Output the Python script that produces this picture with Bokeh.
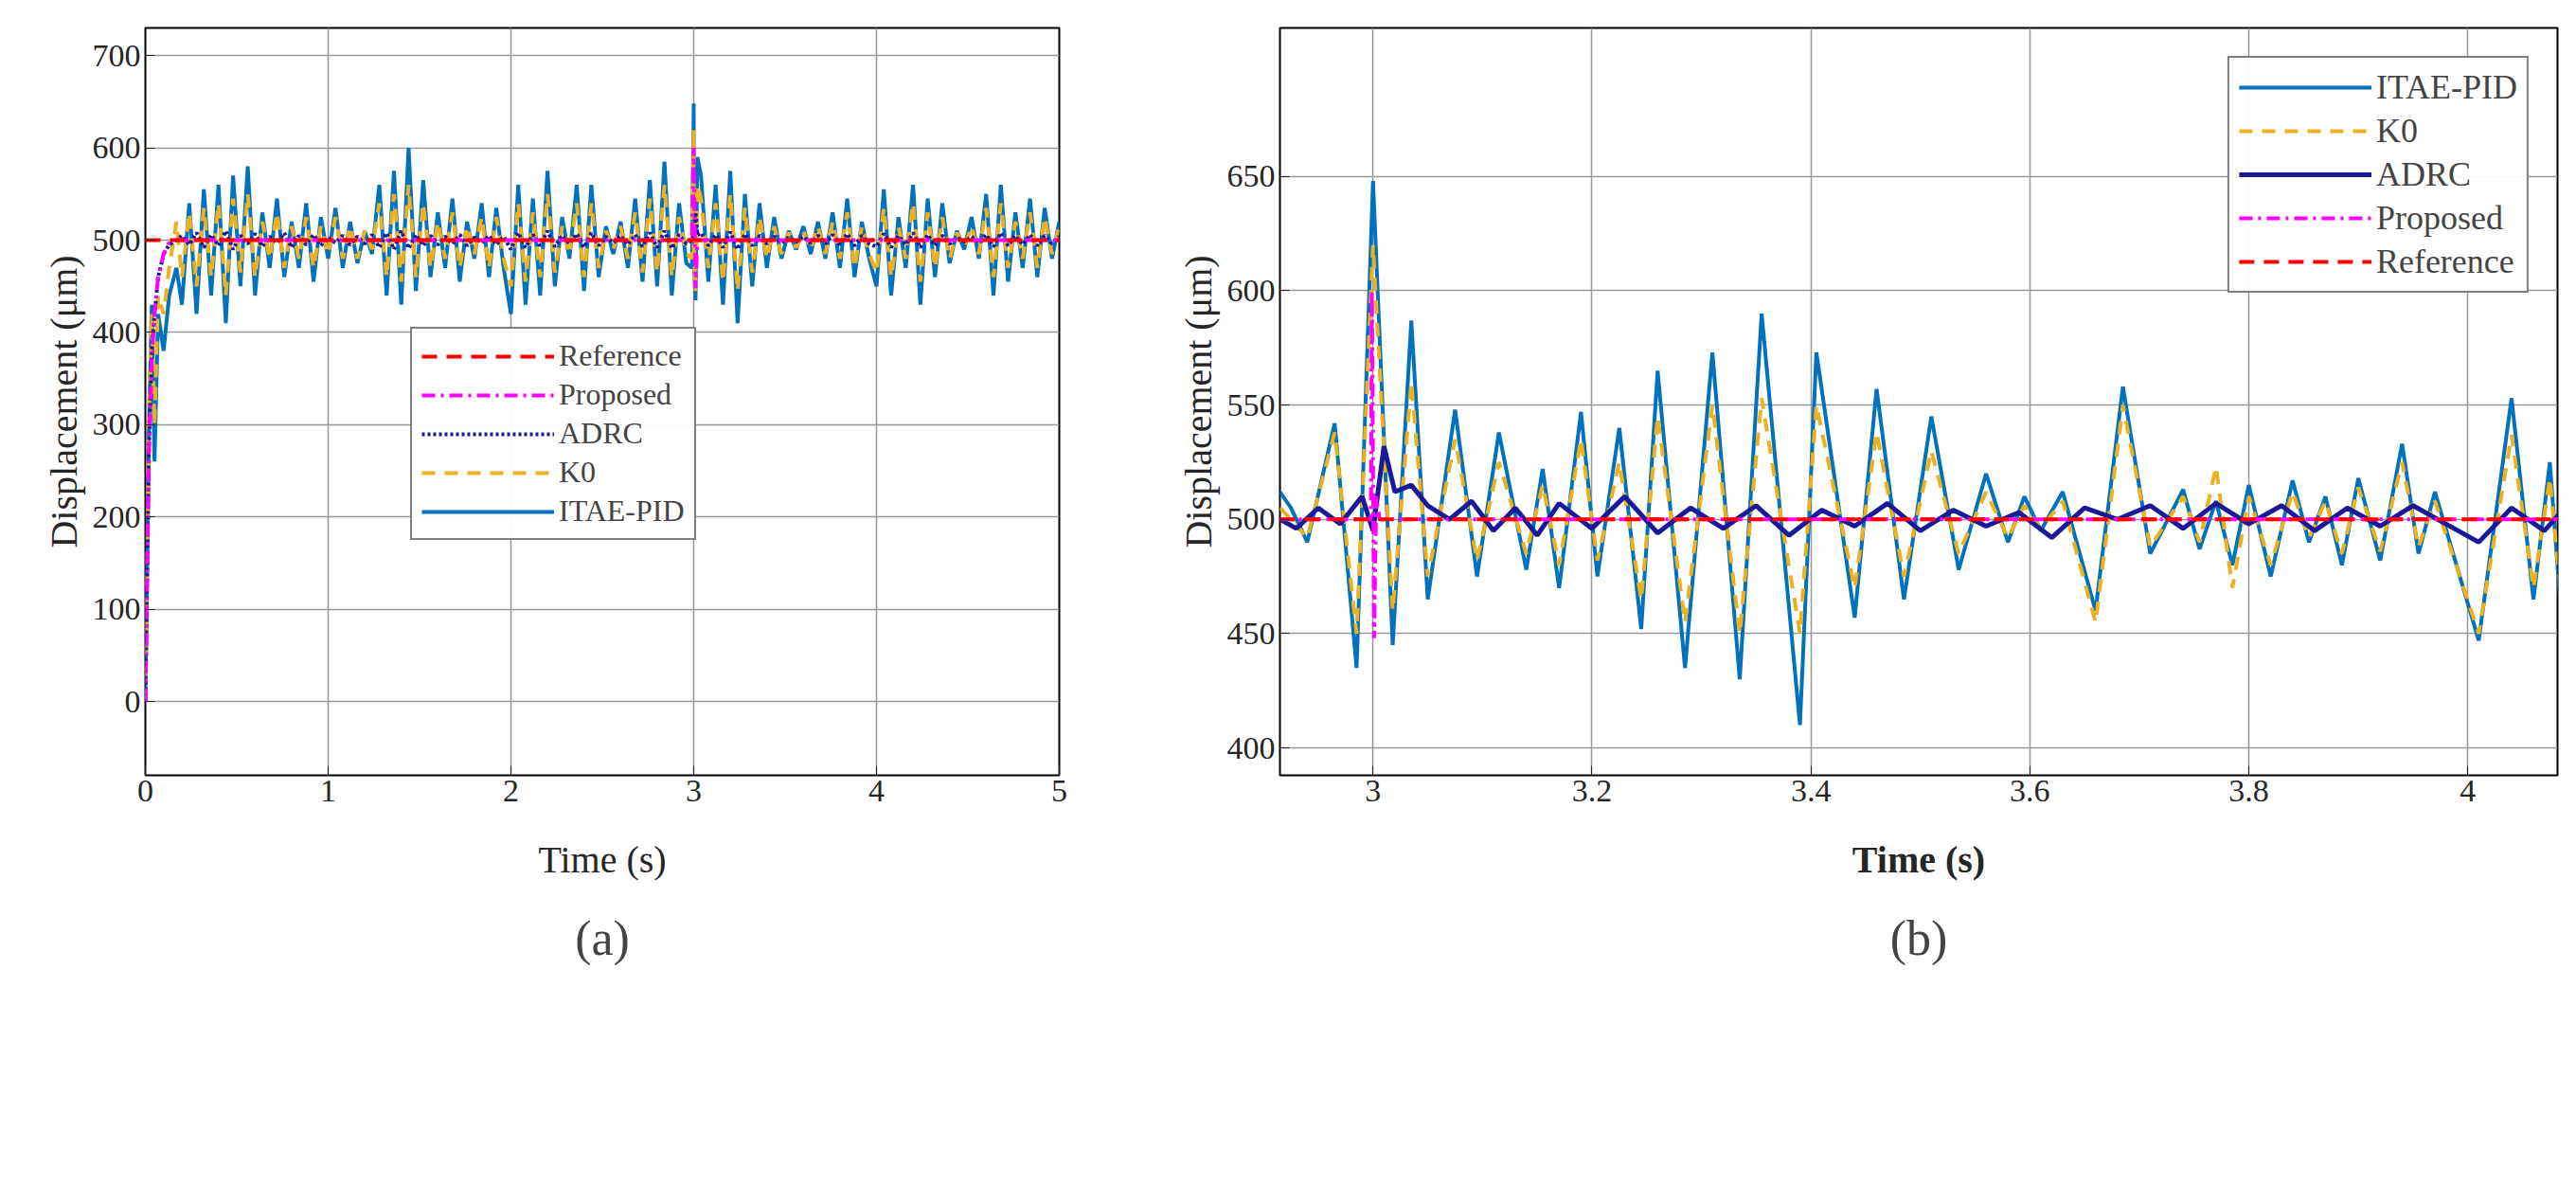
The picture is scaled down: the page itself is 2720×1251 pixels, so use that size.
import numpy as np
from bokeh.plotting import figure
from bokeh.layouts import row
from bokeh.models import Range1d, Title, Legend, LegendItem
from bokeh.embed import file_html
from bokeh.resources import INLINE

# ---------- panel (a): 0..5 s ----------
ta_start = [0.0, 0.01, 0.02, 0.035, 0.05, 0.07, 0.1, 0.13, 0.17]
itae_a_start = [0, 150, 300, 430, 260, 420, 380, 440, 470]
k0_a_start = [0, 160, 320, 420, 300, 440, 420, 470, 520]
adrc_a_start = [0, 140, 280, 380, 420, 460, 485, 495, 500]
prop_a_start = [0, 140, 270, 370, 420, 460, 485, 497, 500]

itae_a = [430, 540, 420, 555, 440, 560, 410, 570, 450, 580, 440, 530, 470, 545, 460, 520, 470, 540, 455, 525,
          480, 535, 470, 520, 475, 510, 485, 560, 440, 575, 430, 600, 445, 565, 460, 530, 470, 545, 455, 520, 480, 540, 460, 535, 470,
          420, 560, 430, 545, 440, 575, 450, 525, 480, 560, 445, 560, 460, 515, 485, 520, 470, 545, 455, 565, 450, 585, 440, 540, 475,
          490, 570, 455, 560, 430, 575, 410, 550, 450, 540, 470, 525, 480, 510, 490, 515, 485, 520, 480, 530, 470, 545, 460, 520, 480,
          450, 555, 440, 525, 470, 560, 430, 545, 460, 540, 475, 510, 490, 525, 480, 550, 440, 560, 455, 530, 470, 545, 460, 535, 480, 520]
k0_a = [460, 530, 450, 535, 460, 540, 440, 545, 465, 550, 460, 520, 480, 530, 470, 515, 480, 525, 470, 515,
        485, 525, 480, 515, 480, 510, 490, 540, 460, 550, 455, 560, 460, 540, 470, 520, 480, 530, 470, 515, 485, 525, 470, 525, 480,
        450, 540, 455, 530, 460, 550, 465, 515, 485, 540, 460, 540, 470, 510, 490, 515, 480, 530, 465, 545, 465, 560, 460, 525, 485,
        495, 545, 470, 540, 455, 550, 445, 535, 465, 525, 480, 515, 485, 508, 492, 510, 490, 515, 485, 520, 480, 530, 470, 515, 485,
        465, 535, 460, 515, 480, 540, 455, 530, 470, 525, 480, 508, 492, 515, 485, 535, 460, 540, 470, 520, 480, 530, 470, 525, 485, 515]
adrc_a = [505, 495, 508, 492, 506, 494, 510, 490, 505, 496, 507, 493, 504, 497, 508, 492, 505, 495, 506, 494,
          503, 497, 505, 495, 504, 496, 506, 492, 508, 490, 510, 491, 506, 494, 505, 495, 504, 496, 506, 494, 503, 497, 505, 495, 504,
          490, 508, 492, 506, 494, 510, 493, 505, 496, 507, 492, 508, 494, 504, 497, 505, 495, 506, 493, 508, 492, 510, 491, 506, 496,
          498, 508, 494, 506, 492, 509, 490, 507, 494, 505, 496, 504, 497, 503, 498, 504, 497, 505, 496, 506, 495, 507, 494, 505, 496,
          493, 507, 492, 505, 495, 508, 492, 506, 494, 505, 496, 503, 498, 504, 497, 506, 493, 508, 494, 505, 495, 506, 494, 505, 496, 504]

ta_spike = [2.99, 3.0, 3.01, 3.02]
itae_a_spike = [470, 648, 435, 590]
k0_a_spike = [480, 620, 445, 560]
adrc_a_spike = [500, 505, 530, 505]
prop_a_spike = [500, 600, 448, 500]

# ---------- panel (b): zoom 2.915..4.08 s ----------
tb_itae = [2.915, 2.925, 2.94, 2.965, 2.985, 3.0, 3.018, 3.035, 3.05, 3.075, 3.095, 3.115, 3.14, 3.155, 3.17, 3.19,
           3.205, 3.225, 3.245, 3.26, 3.285, 3.31, 3.335, 3.355, 3.39, 3.405, 3.44, 3.46, 3.485, 3.51, 3.535, 3.56,
           3.58, 3.595, 3.61, 3.63, 3.66, 3.685, 3.71, 3.74, 3.755, 3.77, 3.785, 3.8, 3.82, 3.84, 3.855, 3.87,
           3.885, 3.9, 3.92, 3.94, 3.955, 3.97, 4.01, 4.04, 4.06, 4.075, 4.085]
itae_b = [512, 505, 490, 542, 435, 648, 445, 587, 465, 548, 475, 538, 478, 522, 470, 547,
          475, 540, 452, 565, 435, 573, 430, 590, 410, 573, 457, 557, 465, 545, 478, 520,
          490, 510, 495, 512, 460, 558, 485, 513, 487, 508, 480, 515, 475, 517, 490, 510,
          480, 518, 482, 533, 485, 512, 447, 553, 465, 525, 460]
k0_b = [505, 500, 492, 538, 450, 620, 460, 560, 475, 535, 482, 525, 485, 515, 480, 535,
        482, 525, 465, 545, 455, 550, 450, 553, 450, 550, 470, 538, 475, 530, 485, 512,
        492, 506, 496, 508, 455, 550, 488, 510, 490, 523, 470, 510, 480, 512, 492, 508,
        485, 514, 486, 525, 488, 508, 450, 537, 470, 518, 466]
tb_adrc = [2.915, 2.93, 2.95, 2.97, 2.99, 3.0, 3.01, 3.02, 3.035, 3.05, 3.07, 3.09, 3.11, 3.13, 3.15, 3.17,
           3.2, 3.23, 3.26, 3.29, 3.32, 3.35, 3.38, 3.41, 3.44, 3.47, 3.5, 3.53, 3.56, 3.59, 3.62, 3.65,
           3.68, 3.71, 3.74, 3.77, 3.8, 3.83, 3.86, 3.89, 3.92, 3.95, 3.98, 4.01, 4.04, 4.07, 4.085]
adrc_b = [500, 496, 505, 498, 510, 495, 532, 512, 515, 506, 500, 508, 495, 505, 493, 507,
          496, 510, 494, 505, 496, 506, 493, 504, 497, 507, 495, 504, 497, 503, 492, 505,
          500, 506, 496, 507, 498, 506, 495, 505, 497, 506, 498, 490, 505, 495, 503]
tb_prop = [2.915, 2.998, 2.999, 3.001, 3.003, 3.006, 4.085]
prop_b = [500, 500, 600, 448, 510, 500, 500]

ref_level = [500, 500]

BLUE = "#0072BD"
ORANGE = "#EDB120"
NAVY = "#1A1A99"
MAGENTA = "#FF00FF"
RED = "#FF0000"
FONT = "Liberation Serif"


def merge(t_parts, v_parts):
    t = np.concatenate([np.asarray(x, float) for x in t_parts])
    v = np.concatenate([np.asarray(x, float) for x in v_parts])
    o = np.argsort(t, kind="stable")
    return t[o], v[o]


def style(p, label):
    p.outline_line_color = "black"
    p.outline_line_width = 2
    for ax in (p.xaxis, p.yaxis):
        ax.major_label_text_font = FONT
        ax.major_label_text_font_size = "34px"
        ax.major_label_text_color = "#262626"
        ax.axis_label_text_font = FONT
        ax.axis_label_text_font_size = "40px"
        ax.axis_label_text_font_style = "normal"
        ax.axis_label_text_color = "#262626"
        ax.major_tick_in = 10
        ax.major_tick_out = 0
        ax.minor_tick_line_color = None
        ax.axis_line_color = None
        ax.major_tick_line_color = "#262626"
    p.xaxis.axis_label_standoff = 36
    p.grid.grid_line_color = "#999999"
    p.grid.grid_line_width = 1.5
    p.add_layout(Title(text=label, align="center", text_font=FONT, text_font_size="52px",
                       text_font_style="normal", standoff=55), "below")


ta_grid = np.linspace(0.2, 5.0, 121)

pa = figure(width=1200, height=1080, output_backend="svg", toolbar_location=None,
            x_range=Range1d(0, 5), y_range=Range1d(-80, 730),
            x_axis_label="Time (s)", y_axis_label="Displacement (μm)",
            min_border_left=153, min_border_right=82, min_border_top=29, min_border_bottom=262)
pa.xaxis.ticker = [0, 1, 2, 3, 4, 5]
pa.yaxis.ticker = [0, 100, 200, 300, 400, 500, 600, 700]
style(pa, "(a)")

t, v = merge([ta_start, ta_grid, ta_spike], [itae_a_start, itae_a, itae_a_spike])
r_itae = pa.line(t, v, line_color=BLUE, line_width=4)
t, v = merge([ta_start, ta_grid, ta_spike], [k0_a_start, k0_a, k0_a_spike])
r_k0 = pa.line(t, v, line_color=ORANGE, line_width=4, line_dash="14 10")
t, v = merge([ta_start, ta_grid, ta_spike], [adrc_a_start, adrc_a, adrc_a_spike])
r_adrc = pa.line(t, v, line_color=NAVY, line_width=4, line_dash="3 3")
t, v = merge([ta_start, [0.3, 5.0], ta_spike], [prop_a_start, [500, 500], prop_a_spike])
r_prop = pa.line(t, v, line_color=MAGENTA, line_width=4, line_dash="14 6 3 6")
r_ref = pa.line([0, 5], ref_level, line_color=RED, line_width=4, line_dash="16 10")

leg_a = Legend(items=[LegendItem(label="Reference", renderers=[r_ref]),
                      LegendItem(label="Proposed", renderers=[r_prop]),
                      LegendItem(label="ADRC", renderers=[r_adrc]),
                      LegendItem(label="K0", renderers=[r_k0]),
                      LegendItem(label="ITAE-PID", renderers=[r_itae])],
               location=(280, 248))
pa.add_layout(leg_a, "center")

pb = figure(width=1504, height=1080, output_backend="svg", toolbar_location=None,
            x_range=Range1d(2.915, 4.082), y_range=Range1d(388, 715),
            x_axis_label="Time (s)", y_axis_label="Displacement (μm)",
            min_border_left=151, min_border_right=4, min_border_top=29, min_border_bottom=240)
pb.xaxis.ticker = [3, 3.2, 3.4, 3.6, 3.8, 4]
pb.xaxis.major_label_overrides = {3: "3", 4: "4"}
pb.yaxis.ticker = [400, 450, 500, 550, 600, 650]
style(pb, "(b)")
pb.xaxis.axis_label_text_font_style = "bold"

s_itae = pb.line(tb_itae, itae_b, line_color=BLUE, line_width=4)
s_k0 = pb.line(tb_itae, k0_b, line_color=ORANGE, line_width=4, line_dash="14 10")
s_adrc = pb.line(tb_adrc, adrc_b, line_color=NAVY, line_width=5)
s_prop = pb.line(tb_prop, prop_b, line_color=MAGENTA, line_width=4, line_dash="14 6 3 6")
s_ref = pb.line([2.915, 4.085], ref_level, line_color=RED, line_width=4, line_dash="16 10")

leg_b = Legend(items=[LegendItem(label="ITAE-PID", renderers=[s_itae]),
                      LegendItem(label="K0", renderers=[s_k0]),
                      LegendItem(label="ADRC", renderers=[s_adrc]),
                      LegendItem(label="Proposed", renderers=[s_prop]),
                      LegendItem(label="Reference", renderers=[s_ref])],
               location="top_right")
pb.add_layout(leg_b, "center")

for lg in (leg_a, leg_b):
    lg.label_text_font = FONT
    lg.glyph_width = 140
    lg.spacing = 4
    lg.border_line_color = "black"
    lg.border_line_width = 2
    lg.padding = 10
leg_a.label_text_font_size = "32px"
leg_a.glyph_height = 26
leg_b.label_text_font_size = "36px"
leg_b.glyph_height = 32
leg_b.margin = 30

layout = row(pa, pb)
open("out.html", "w").write(file_html(layout, INLINE))
